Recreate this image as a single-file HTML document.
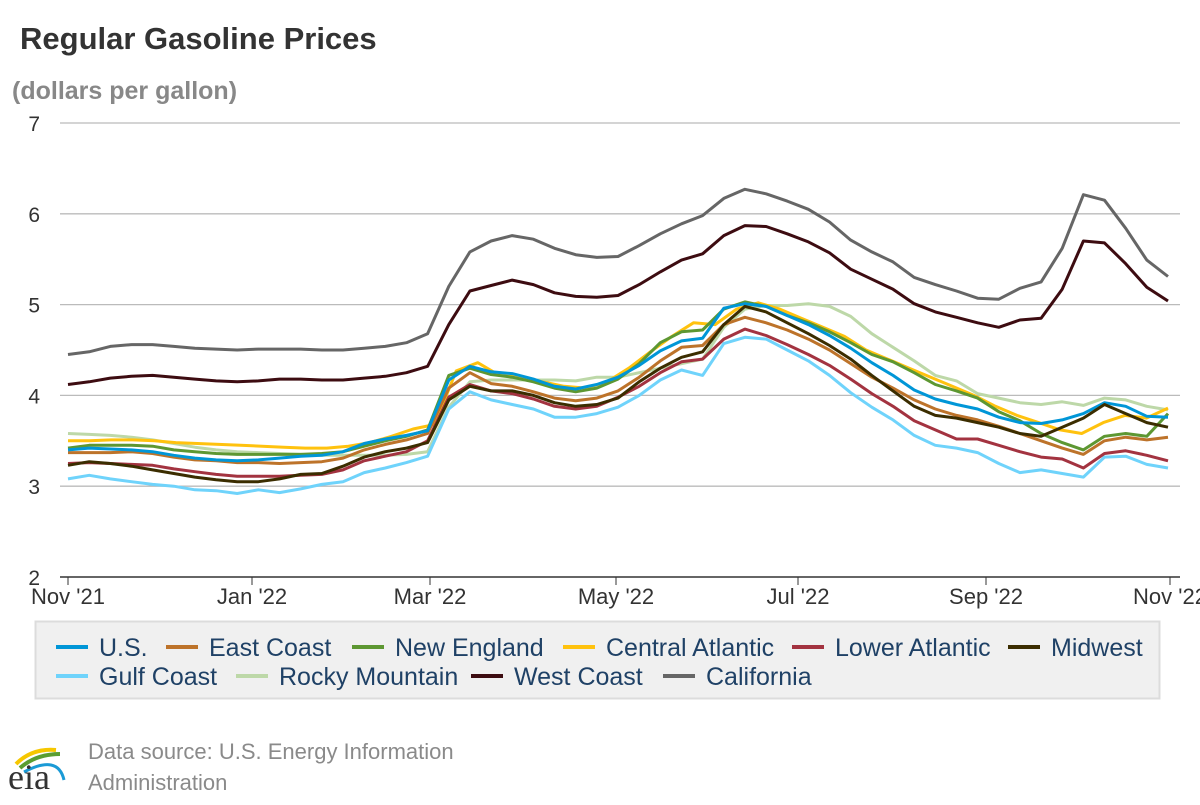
<!DOCTYPE html>
<html><head><meta charset="utf-8"><style>
body{margin:0;width:1200px;height:800px;background:#fff;font-family:"Liberation Sans",Arial,sans-serif;overflow:hidden}
</style></head><body>
<svg id="s" width="1200" height="800" xmlns="http://www.w3.org/2000/svg" font-family="Liberation Sans, Arial, sans-serif">
<text x="20" y="49" font-size="31" font-weight="bold" fill="#333">Regular Gasoline Prices</text>
<text x="12" y="99" font-size="25" font-weight="bold" fill="#888">(dollars per gallon)</text>
<g id="grid"></g>
<g id="lines"></g>
<rect x="35.5" y="621.5" width="1124" height="77" fill="#f0f0f0" stroke="#dcdcdc" stroke-width="2"/>
<g id="leg" font-size="25" fill="#1f4166"></g>
<text x="88" y="759" font-size="22" fill="#8a8a8a">Data source: U.S. Energy Information</text>
<text x="88" y="790" font-size="22" fill="#8a8a8a">Administration</text>
<path d="M16 764 Q32 748 56 750" stroke="#f6c700" stroke-width="4" fill="none"/>
<path d="M20 768 Q36 754 60 754" stroke="#5a9e32" stroke-width="4" fill="none"/>
<path d="M24 772 Q58 754 64 780" stroke="#1a9ad6" stroke-width="3" fill="none"/>
<text x="8" y="789" font-size="36" font-family="Liberation Serif, serif" fill="#333">eia</text>
</svg>
<script>
const g=document.getElementById('grid'),L=document.getElementById('lines'),lg=document.getElementById('leg');
const ns='http://www.w3.org/2000/svg';
function el(t,a,p,txt){const e=document.createElementNS(ns,t);for(const k in a)e.setAttribute(k,a[k]);if(txt)e.textContent=txt;p.appendChild(e);return e;}
const Y=v=>577-(v-2)*90.8;
for(let v=2;v<=7;v++){el('line',{x1:60,x2:1180,y1:Y(v),y2:Y(v),stroke:v==2?'#333':'#bbb','stroke-width':v==2?1.5:1.3},g);
el('text',{x:40,y:Y(v)+8,'font-size':21,fill:'#333','text-anchor':'end'},g,String(v));}
const mx=[[68,"Nov '21"],[252,"Jan '22"],[430,"Mar '22"],[616,"May '22"],[798,"Jul '22"],[986,"Sep '22"],[1170,"Nov '22"]];
mx.forEach(([x,t])=>{el('line',{x1:x,x2:x,y1:577,y2:585,stroke:'#333'},g);el('text',{x:x,y:604,'font-size':22,fill:'#333','text-anchor':'middle'},g,t);});
const S=[
["Rocky Mountain","#bdd8a8",[3.58,3.57,3.56,3.54,3.51,3.47,3.43,3.40,3.38,3.37,3.36,3.35,3.34,3.34,3.34,3.34,3.35,3.38,3.87,4.15,4.17,4.17,4.17,4.17,4.16,4.20,4.20,4.25,4.30,4.35,4.40,4.75,4.95,4.99,4.99,5.01,4.98,4.87,4.68,4.53,4.38,4.22,4.16,4.02,3.97,3.92,3.90,3.93,3.89,3.97,3.95,3.88,3.84]],
["California","#666666",[4.45,4.48,4.54,4.56,4.56,4.54,4.52,4.51,4.50,4.51,4.51,4.51,4.50,4.50,4.52,4.54,4.58,4.68,5.2,5.58,5.70,5.76,5.72,5.62,5.55,5.52,5.53,5.65,5.78,5.89,5.98,6.17,6.27,6.22,6.14,6.05,5.91,5.71,5.58,5.47,5.30,5.22,5.15,5.07,5.06,5.18,5.25,5.62,6.21,6.15,5.84,5.49,5.31]],
["West Coast","#3d0c11",[4.12,4.15,4.19,4.21,4.22,4.20,4.18,4.16,4.15,4.16,4.18,4.18,4.17,4.17,4.19,4.21,4.25,4.32,4.78,5.15,5.21,5.27,5.22,5.13,5.09,5.08,5.10,5.22,5.36,5.49,5.56,5.76,5.87,5.86,5.78,5.69,5.57,5.39,5.28,5.17,5.01,4.92,4.86,4.80,4.75,4.83,4.85,5.17,5.70,5.68,5.45,5.19,5.04]],
["Central Atlantic","#ffc20e",[3.50,3.50,3.51,3.51,3.50,3.48,3.47,3.46,3.45,3.44,3.43,3.42,3.42,3.44,3.48,3.55,3.63,3.68,4.27,4.36,4.22,4.20,4.15,4.10,4.08,4.15,4.30,4.48,4.65,4.80,4.78,4.95,5.02,4.95,4.85,4.75,4.65,4.50,4.40,4.30,4.20,4.10,4.00,3.88,3.78,3.70,3.62,3.58,3.70,3.78,3.75,3.86]],
["Gulf Coast","#6fd3fb",[3.08,3.12,3.08,3.05,3.02,3.00,2.96,2.95,2.92,2.96,2.93,2.97,3.02,3.05,3.15,3.20,3.26,3.33,3.85,4.04,3.95,3.90,3.85,3.76,3.76,3.80,3.87,4.00,4.17,4.28,4.22,4.57,4.64,4.62,4.50,4.38,4.22,4.03,3.87,3.73,3.56,3.45,3.42,3.37,3.25,3.15,3.18,3.14,3.10,3.32,3.33,3.24,3.20]],
["Lower Atlantic","#a33340",[3.25,3.26,3.25,3.24,3.23,3.19,3.16,3.13,3.11,3.11,3.11,3.12,3.13,3.18,3.28,3.33,3.38,3.50,3.98,4.12,4.05,4.02,3.96,3.88,3.85,3.88,3.98,4.10,4.25,4.37,4.40,4.62,4.73,4.66,4.56,4.45,4.33,4.18,4.02,3.88,3.72,3.62,3.52,3.52,3.45,3.38,3.32,3.30,3.20,3.36,3.39,3.34,3.28]],
["East Coast","#bd732a",[3.37,3.37,3.37,3.38,3.36,3.32,3.29,3.28,3.26,3.26,3.25,3.26,3.27,3.31,3.40,3.46,3.51,3.58,4.08,4.25,4.13,4.10,4.04,3.97,3.94,3.97,4.05,4.20,4.38,4.53,4.55,4.78,4.86,4.80,4.72,4.62,4.50,4.35,4.20,4.08,3.95,3.85,3.78,3.73,3.66,3.58,3.50,3.42,3.35,3.50,3.54,3.51,3.54]],
["New England","#5d9732",[3.42,3.45,3.45,3.45,3.44,3.40,3.38,3.36,3.35,3.35,3.35,3.35,3.36,3.38,3.44,3.50,3.55,3.62,4.22,4.30,4.23,4.20,4.15,4.08,4.04,4.08,4.18,4.35,4.58,4.70,4.72,4.95,5.03,4.98,4.88,4.80,4.70,4.58,4.45,4.37,4.25,4.12,4.05,3.97,3.82,3.72,3.58,3.48,3.40,3.55,3.58,3.55,3.80]],
["U.S.","#0096d7",[3.40,3.42,3.41,3.40,3.38,3.34,3.31,3.29,3.28,3.29,3.31,3.33,3.34,3.38,3.47,3.52,3.56,3.61,4.17,4.32,4.26,4.24,4.18,4.10,4.07,4.12,4.20,4.33,4.49,4.60,4.63,4.96,5.01,4.98,4.88,4.78,4.66,4.52,4.36,4.22,4.06,3.96,3.90,3.85,3.76,3.70,3.69,3.73,3.80,3.92,3.88,3.77,3.76]],
["Midwest","#3b2d00",[3.23,3.27,3.25,3.22,3.18,3.14,3.10,3.07,3.05,3.05,3.08,3.13,3.14,3.22,3.32,3.38,3.42,3.48,3.95,4.10,4.05,4.05,4.00,3.92,3.88,3.90,3.97,4.15,4.30,4.42,4.48,4.78,4.98,4.92,4.80,4.68,4.55,4.40,4.22,4.05,3.88,3.78,3.75,3.70,3.65,3.58,3.55,3.65,3.75,3.90,3.80,3.70,3.65]]];
const col={};
S.forEach(([n,c,d])=>{col[n]=c;const pts=d.map((v,i)=>(68+i*1100/(d.length-1)).toFixed(1)+','+Y(v).toFixed(1)).join(' ');
el('polyline',{points:pts,fill:'none',stroke:c,'stroke-width':3,'stroke-linejoin':'round'},L);});
const leg=[[["U.S.",99],["East Coast",209],["New England",395],["Central Atlantic",606],["Lower Atlantic",835],["Midwest",1051]],
[["Gulf Coast",99],["Rocky Mountain",279],["West Coast",514],["California",706]]];
leg.forEach((row,r)=>row.forEach(([n,x])=>{const y=r?676:647;
el('line',{x1:x-43,x2:x-11,y1:y,y2:y,stroke:col[n],'stroke-width':4},lg);
el('text',{x:x,y:y+9},lg,n);}));
</script>
</body></html>
